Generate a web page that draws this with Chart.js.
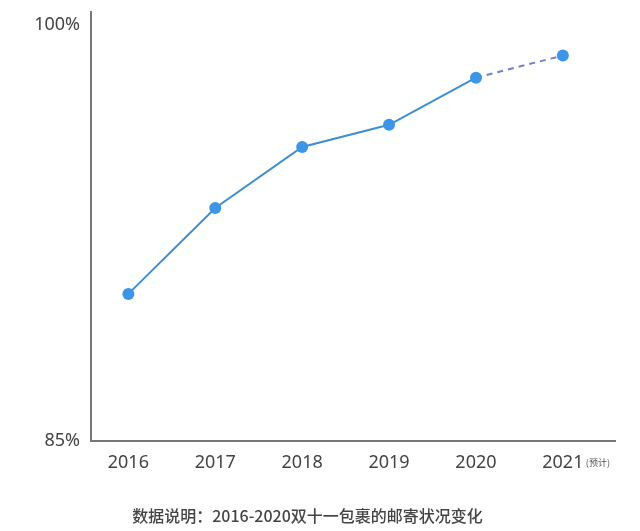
<!DOCTYPE html>
<html>
<head>
<meta charset="utf-8">
<script src="https://cdn.jsdelivr.net/npm/chart.js@4/dist/chart.umd.min.js"></script>
<style>
  html, body { margin: 0; padding: 0; background: #fff; }
  #wrap { width: 640px; height: 531px; }
</style>
</head>
<body>
<div id="wrap"><canvas id="myChart"></canvas></div>
<script>
// chart data
const years = [2016, 2017, 2018, 2019, 2020, 2021];
const rates = [90.3, 93.4, 95.6, 96.4, 98.1, 98.9];
const yTicks = [85, 100];
const forecastNote = '(预计)';
const caption = '数据说明：2016-2020双十一包裹的邮寄状况变化';

const points = years.map((y, i) => ({x: y, y: rates[i]}));

// small "(预计)" note after the 2021 label
const notePlugin = {
    id: 'forecastNote',
    afterDraw(chart) {
        const xs = chart.scales.x;
        const c = chart.ctx;
        const px = xs.getPixelForValue(years[years.length - 1]);
        c.save();
        c.font = '9px "Noto Sans CJK SC", "Noto Sans"';
        c.fillStyle = '#555';
        c.textBaseline = 'middle';
        c.fillText(forecastNote, px + 23, xs.top + 22);
        c.restore();
    }
};

let ctx = document.getElementById('myChart').getContext('2d');

new Chart(ctx, {
    type: 'line',
    data: {
        datasets: [{
            data: points,
            borderColor: '#3b8fd2',
            borderWidth: 2,
            pointBackgroundColor: '#3d95e8',
            pointBorderWidth: 0,
            pointRadius: 6,
            tension: 0,
            segment: {
                borderDash: c => c.p1DataIndex === years.length - 1 ? [6, 5] : undefined,
                borderColor: c => c.p1DataIndex === years.length - 1 ? '#6f83c4' : undefined
            }
        }]
    },
    options: {
        responsive: true,
        maintainAspectRatio: false,
        animation: false,
        layout: {padding: {top: 12, right: 25, left: 0, bottom: 0}},
        plugins: {
            legend: {display: false},
            tooltip: {enabled: false},
            title: {
                display: true,
                position: 'bottom',
                text: caption,
                color: '#444',
                font: {family: '"Noto Sans CJK SC", "Noto Sans"', size: 16, weight: '500'},
                padding: {top: 10, bottom: 5}
            }
        },
        scales: {
            x: {
                type: 'linear',
                min: 2015.57,
                max: 2021.6,
                grid: {display: false, drawTicks: false},
                border: {display: true, color: '#777', width: 2},
                afterBuildTicks: s => { s.ticks = years.map(v => ({value: v})); },
                afterFit: s => { s.height = 56; s.paddingLeft = 0; s.paddingRight = 0; },
                ticks: {
                    padding: 11,
                    color: '#444',
                    font: {family: '"Noto Sans"', size: 18},
                    callback: v => String(v)
                }
            },
            y: {
                min: 85,
                max: 100.47,
                grid: {display: false, drawTicks: false},
                border: {display: true, color: '#777', width: 2},
                afterBuildTicks: s => { s.ticks = yTicks.map(v => ({value: v})); },
                afterFit: s => { s.width = 91; s.paddingTop = 0; s.paddingBottom = 0; },
                ticks: {
                    padding: 11,
                    color: '#444',
                    font: {family: '"Noto Sans"', size: 18},
                    callback: v => v + '%'
                }
            }
        }
    },
    plugins: [notePlugin]
});
</script>
</body>
</html>
